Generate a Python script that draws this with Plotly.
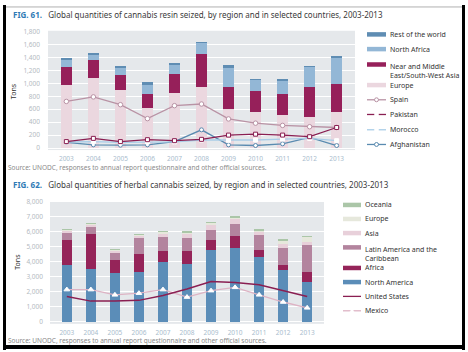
import plotly.graph_objects as go

W, H = 468, 352

years = ["2003", "2004", "2005", "2006", "2007", "2008", "2009", "2010", "2011", "2012", "2013"]

# FIG 61 - cannabis resin (tons)
resin_europe = [975, 1075, 900, 615, 850, 935, 600, 555, 505, 485, 555]
resin_nme = [280, 280, 225, 225, 300, 520, 335, 320, 335, 465, 430]
resin_nafrica = [115, 100, 125, 135, 150, 175, 305, 185, 210, 310, 420]
resin_rest = [15, 10, 20, 40, 10, 10, 40, 5, 10, 5, 5]
spain = [720, 790, 670, 455, 655, 680, 450, 385, 350, 330, 318]
pakistan = [101, 150, 101, 130, 115, 135, 201, 215, 201, 176, 318]
morocco = [95, 100, 90, 95, 95, 125, 120, 125, 140, 150, 115]
afghanistan = [90, 50, 45, 50, 100, 282, 50, 40, 66, 166, 40]

# FIG 62 - herbal cannabis (tons)
h_namerica = [3800, 3550, 3230, 3310, 3990, 3860, 4800, 4950, 4300, 3420, 2660]
h_africa = [1650, 2330, 870, 1200, 700, 890, 650, 790, 500, 390, 680]
h_latin = [480, 480, 480, 1090, 980, 870, 650, 810, 980, 1090, 1790]
h_asia = [150, 110, 150, 170, 220, 220, 370, 280, 220, 260, 220]
h_europe = [80, 60, 60, 60, 150, 150, 170, 150, 110, 280, 320]
h_oceania = [20, 10, 10, 10, 20, 20, 20, 20, 20, 20, 30]
united_states = [1680, 1370, 1370, 1420, 1740, 2180, 2680, 2620, 2460, 2070, 1680]
mexico = [2140, 2140, 1790, 1900, 2140, 1640, 2070, 2290, 1790, 1310, 920]

top_ticks = list(range(0, 1801, 200))
bot_ticks = list(range(0, 8001, 1000))

C_EUROPE = "#ebd7df"
C_NME = "#96205a"
C_NAF = "#93b7d6"
C_REST = "#5f8db3"
C_SPAIN = "#b993a5"
C_PAK = "#8a1f52"
C_MOR = "#a9cde8"
C_AFG = "#5a8bb0"

C_NAM = "#5b8db8"
C_AFR = "#952459"
C_LAT = "#b3849e"
C_ASIA = "#e8d0da"
C_EURH = "#e6e8dc"
C_OCE = "#abc6a8"
C_US = "#8a1f52"
C_MEX = "#ddb3c4"

FONT = "Noto Sans"

def px(x):
    return x / W

def py(y):
    return 1 - y / H

fig = go.Figure()

# top bars
for name, vals, col in [("Europe", resin_europe, C_EUROPE),
                        ("Near and Middle East/South-West Asia", resin_nme, C_NME),
                        ("North Africa", resin_nafrica, C_NAF),
                        ("Rest of the world", resin_rest, C_REST)]:
    fig.add_trace(go.Bar(x=years, y=vals, name=name, marker_color=col,
                         marker_line_width=0, xaxis="x", yaxis="y"))

def line(xa, ya, vals, col, width, sym, msize, mcol, mline):
    return go.Scatter(x=years, y=vals, mode="lines+markers", xaxis=xa, yaxis=ya,
                      line=dict(color=col, width=width),
                      marker=dict(symbol=sym, size=msize, color=mcol,
                                  line=dict(color=mline, width=1)))

fig.add_trace(line("x", "y", spain, C_SPAIN, 1.3, "circle", 4.5, "white", C_SPAIN))
fig.add_trace(line("x", "y", afghanistan, C_AFG, 1.3, "circle", 4, "white", C_AFG))
fig.add_trace(line("x", "y", morocco, C_MOR, 1.3, "square", 4, "white", "white"))
fig.add_trace(line("x", "y", pakistan, C_PAK, 1.3, "square", 4, "white", C_PAK))

# bottom bars
for name, vals, col in [("North America", h_namerica, C_NAM),
                        ("Africa", h_africa, C_AFR),
                        ("Latin America and the Caribbean", h_latin, C_LAT),
                        ("Asia", h_asia, C_ASIA),
                        ("Europe", h_europe, C_EURH),
                        ("Oceania", h_oceania, C_OCE)]:
    fig.add_trace(go.Bar(x=years, y=vals, name=name, marker_color=col,
                         marker_line_width=0, xaxis="x2", yaxis="y2"))

fig.add_trace(line("x2", "y2", mexico, C_MEX, 1.3, "triangle-up", 5, "white", "white"))
fig.add_trace(go.Scatter(x=years, y=united_states, mode="lines", xaxis="x2", yaxis="y2",
                         line=dict(color=C_US, width=1.5)))

tickfont_y = dict(family=FONT, size=6.5, color="#b4bac1")
tickfont_x = dict(family=FONT, size=6.5, color="#a9bccd")

axis_common = dict(showline=False, zeroline=False, ticks="")

fig.update_layout(
    width=W, height=H,
    margin=dict(l=0, r=0, t=0, b=0),
    paper_bgcolor="white",
    plot_bgcolor="#e5e8eb",
    barmode="stack",
    bargap=0.6,
    showlegend=False,
    xaxis=dict(domain=[px(48), px(355)], anchor="y", type="category",
               tickfont=tickfont_x, showgrid=False, ticklabelstandoff=3, **axis_common),
    yaxis=dict(domain=[py(148), py(26.3)], anchor="x", range=[-30, 1810],
               tickvals=top_ticks, tickformat=",d", tickfont=tickfont_y,
               gridcolor="white", gridwidth=1, ticklabelstandoff=7, **axis_common),
    xaxis2=dict(domain=[px(50), px(324)], anchor="y2", type="category",
                tickfont=tickfont_x, showgrid=False, ticklabelstandoff=4, **axis_common),
    yaxis2=dict(domain=[py(325.3), py(201)], anchor="x2", range=[-150, 8000],
                tickvals=bot_ticks, tickformat=",d", tickfont=tickfont_y,
                gridcolor="white", gridwidth=1, ticklabelstandoff=6, **axis_common),
)

ann = []
shapes = []

def text(x, y, s, size=7, color="#333333", xanchor="left", angle=0):
    ann.append(dict(x=px(x), y=py(y), xref="paper", yref="paper", text=s,
                    showarrow=False, xanchor=xanchor, yanchor="middle", textangle=angle,
                    font=dict(family=FONT, size=size, color=color)))

# titles
text(11, 10, "<span style='color:#2f7ab5'><b>FIG. 61.</b></span>   Global quantities of cannabis resin seized, by region and in selected countries, 2003-2013",
     size=8, color="#3a3a3a")
text(11, 183, "<span style='color:#2f7ab5'><b>FIG. 62.</b></span>   Global quantities of herbal cannabis seized, by region and in selected countries, 2003-2013",
     size=8, color="#3a3a3a")
text(6, 166, "Source: UNODC, responses to annual report questionnaire and other official sources.",
     size=6.5, color="#8a8a8a")
text(6, 342, "Source: UNODC, responses to annual report questionnaire and other official sources.",
     size=6.5, color="#8a8a8a")
text(13, 88, "Tons", size=7, color="#333333", xanchor="center", angle=-90)
text(18, 262, "Tons", size=7, color="#333333", xanchor="center", angle=-90)

def bar_sw(x0, x1, y, col):
    shapes.append(dict(type="rect", xref="paper", yref="paper",
                       x0=px(x0), x1=px(x1), y0=py(y + 2.3), y1=py(y - 2.3),
                       fillcolor=col, line=dict(width=0)))

def line_sw(x0, x1, y, col, mark=None, mcol="white"):
    shapes.append(dict(type="line", xref="paper", yref="paper",
                       x0=px(x0), x1=px(x1), y0=py(y), y1=py(y),
                       line=dict(color=col, width=1.3)))
    xm = (x0 + x1) / 2
    if mark == "circle":
        shapes.append(dict(type="circle", xref="paper", yref="paper",
                           x0=px(xm - 2), x1=px(xm + 2), y0=py(y + 2), y1=py(y - 2),
                           fillcolor=mcol, line=dict(color=col, width=1)))
    elif mark == "square":
        shapes.append(dict(type="rect", xref="paper", yref="paper",
                           x0=px(xm - 2), x1=px(xm + 2), y0=py(y + 2), y1=py(y - 2),
                           fillcolor=mcol, line=dict(color=mcol, width=0.5)))
    elif mark == "tri":
        shapes.append(dict(type="path", xref="paper", yref="paper",
                           path=f"M {px(xm-2.5)} {py(y+2)} L {px(xm+2.5)} {py(y+2)} L {px(xm)} {py(y-2.5)} Z",
                           fillcolor=mcol, line=dict(color=mcol, width=0.5)))

# top legend
LX0, LX1, LT = 367, 386, 388
top_leg = [("Rest of the world", 30, "bar", C_REST, None),
           ("North Africa", 45, "bar", C_NAF, None),
           ("Near and Middle<br>East/South-West Asia", 60.7, "bar", C_NME, None),
           ("Europe", 81.7, "bar", C_EUROPE, None),
           ("Spain", 96.7, "line", C_SPAIN, "circle"),
           ("Pakistan", 111.7, "line", C_PAK, "square"),
           ("Morocco", 127.3, "line", C_MOR, "square"),
           ("Afghanistan", 142.3, "line", C_AFG, "circle")]
for lab, y, kind, col, mk in top_leg:
    if kind == "bar":
        bar_sw(LX0, LX1, y, col)
    else:
        line_sw(LX0, LX1, y, col, mk)
    if "<br>" in lab:
        ann.append(dict(x=px(LT), y=py(y - 4.5), xref="paper", yref="paper", text=lab,
                        showarrow=False, xanchor="left", yanchor="top", align="left",
                        font=dict(family=FONT, size=7, color="#333333")))
    else:
        text(LT, y, lab)

# bottom legend
BX0, BX1, BT = 343, 361, 363
bot_leg = [("Oceania", 204, "bar", C_OCE, None),
           ("Europe", 218.3, "bar", C_EURH, None),
           ("Asia", 232.7, "bar", C_ASIA, None),
           ("Latin America and the<br>Caribbean", 247.3, "bar", C_LAT, None),
           ("Africa", 268.3, "bar", C_AFR, None),
           ("North America", 282.7, "bar", C_NAM, None),
           ("United States", 297.3, "line", C_US, None),
           ("Mexico", 312, "line", C_MEX, "tri")]
for lab, y, kind, col, mk in bot_leg:
    if kind == "bar":
        bar_sw(BX0, BX1, y, col)
    else:
        line_sw(BX0, BX1, y, col, mk)
    if "<br>" in lab:
        ann.append(dict(x=px(BT), y=py(y - 4.5), xref="paper", yref="paper", text=lab,
                        showarrow=False, xanchor="left", yanchor="top", align="left",
                        font=dict(family=FONT, size=7, color="#333333")))
    else:
        text(BT, y, lab)

# frame of the screenshot
for x0, x1, y0, y1 in [(3, 6, 0, 352), (462, 465, 0, 352), (3, 465, 347, 351)]:
    shapes.append(dict(type="rect", xref="paper", yref="paper",
                       x0=px(x0), x1=px(x1), y0=py(y1), y1=py(y0),
                       fillcolor="black", line=dict(width=0)))
shapes.append(dict(type="line", xref="paper", yref="paper",
                   x0=px(6), x1=px(462), y0=py(2), y1=py(2),
                   line=dict(color="#b0b0b0", width=1)))

fig.update_layout(annotations=ann, shapes=shapes)
fig.write_html("out.html")
